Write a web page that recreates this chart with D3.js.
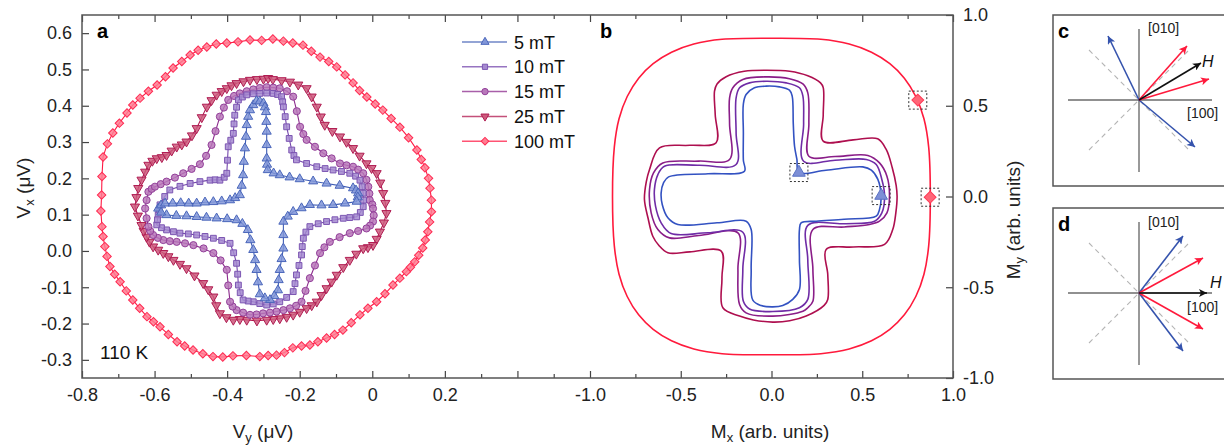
<!DOCTYPE html>
<html>
<head>
<meta charset="utf-8">
<script src="https://cdn.jsdelivr.net/npm/d3@7"></script>
<style>
  body { margin: 0; background: #fff; }
  svg { font-family: Arial, "Liberation Sans", sans-serif; }
</style>
</head>
<body>
<svg id="chart" width="1224" height="447"></svg>
<script>
// ---- panel a : measured loops, [Vy, Vx] in µV ----
var a5 = [[-0.590,0.117],[-0.582,0.126],[-0.571,0.131],[-0.550,0.131],[-0.528,0.132],[-0.506,0.131],[-0.484,0.131],
  [-0.461,0.134],[-0.438,0.135],[-0.415,0.137],[-0.392,0.140],[-0.378,0.146],[-0.365,0.154],[-0.360,0.180],[-0.356,0.209],
  [-0.354,0.246],[-0.351,0.283],[-0.348,0.315],[-0.346,0.347],[-0.342,0.370],[-0.337,0.388],[-0.328,0.402],[-0.319,0.413],
  [-0.310,0.412],[-0.300,0.407],[-0.296,0.396],[-0.293,0.383],[-0.292,0.356],[-0.291,0.329],[-0.291,0.292],[-0.291,0.255],
  [-0.290,0.238],[-0.288,0.223],[-0.272,0.214],[-0.255,0.209],[-0.228,0.203],[-0.200,0.198],[-0.163,0.192],[-0.126,0.186],
  [-0.090,0.180],[-0.053,0.173],[-0.045,0.167],[-0.039,0.159],[-0.040,0.148],[-0.043,0.136],[-0.075,0.131],[-0.108,0.127],
  [-0.140,0.126],[-0.172,0.127],[-0.195,0.118],[-0.218,0.108],[-0.233,0.095],[-0.245,0.081],[-0.245,0.044],[-0.245,0.007],
  [-0.250,-0.022],[-0.255,-0.052],[-0.258,-0.080],[-0.260,-0.108],[-0.270,-0.124],[-0.282,-0.135],[-0.296,-0.130],
  [-0.310,-0.119],[-0.315,-0.086],[-0.319,-0.052],[-0.323,-0.025],[-0.328,0.003],[-0.336,0.030],[-0.343,0.058],
  [-0.358,0.075],[-0.374,0.085],[-0.400,0.088],[-0.429,0.090],[-0.457,0.092],[-0.484,0.094],[-0.512,0.096],[-0.540,0.097],
  [-0.567,0.099],[-0.582,0.106]];
var a10 = [[-0.590,0.099],[-0.588,0.113],[-0.585,0.127],[-0.572,0.150],[-0.558,0.168],[-0.530,0.178],[-0.502,0.186],
  [-0.475,0.191],[-0.447,0.195],[-0.433,0.196],[-0.420,0.195],[-0.408,0.203],[-0.401,0.214],[-0.399,0.250],[-0.397,0.287],
  [-0.390,0.305],[-0.383,0.324],[-0.381,0.350],[-0.379,0.374],[-0.374,0.396],[-0.369,0.416],[-0.358,0.424],[-0.346,0.430],
  [-0.328,0.433],[-0.310,0.434],[-0.291,0.435],[-0.273,0.434],[-0.261,0.431],[-0.250,0.425],[-0.247,0.411],[-0.245,0.397],
  [-0.240,0.370],[-0.236,0.342],[-0.229,0.310],[-0.222,0.278],[-0.216,0.263],[-0.209,0.251],[-0.181,0.241],[-0.153,0.232],
  [-0.130,0.227],[-0.108,0.223],[-0.085,0.219],[-0.062,0.214],[-0.046,0.206],[-0.034,0.195],[-0.028,0.177],[-0.025,0.159],
  [-0.024,0.140],[-0.025,0.122],[-0.033,0.106],[-0.043,0.094],[-0.062,0.092],[-0.080,0.090],[-0.103,0.086],[-0.126,0.081],
  [-0.149,0.075],[-0.172,0.067],[-0.183,0.052],[-0.190,0.035],[-0.193,0.012],[-0.195,-0.011],[-0.202,-0.040],[-0.209,-0.066],
  [-0.213,-0.090],[-0.218,-0.112],[-0.236,-0.128],[-0.255,-0.140],[-0.273,-0.146],[-0.291,-0.149],[-0.310,-0.145],
  [-0.328,-0.140],[-0.342,-0.138],[-0.356,-0.135],[-0.364,-0.115],[-0.369,-0.094],[-0.371,-0.064],[-0.374,-0.034],
  [-0.382,-0.005],[-0.392,0.021],[-0.415,0.029],[-0.438,0.035],[-0.461,0.040],[-0.484,0.044],[-0.507,0.047],[-0.530,0.049],
  [-0.548,0.053],[-0.567,0.058],[-0.581,0.064],[-0.594,0.072],[-0.592,0.086]];
var a15 = [[-0.626,0.117],[-0.622,0.140],[-0.617,0.163],[-0.608,0.171],[-0.599,0.177],[-0.583,0.184],[-0.567,0.191],
  [-0.544,0.202],[-0.521,0.214],[-0.498,0.226],[-0.475,0.239],[-0.458,0.262],[-0.443,0.292],[-0.432,0.330],[-0.420,0.370],
  [-0.409,0.395],[-0.397,0.416],[-0.381,0.427],[-0.365,0.434],[-0.346,0.440],[-0.328,0.445],[-0.310,0.449],[-0.291,0.451],
  [-0.273,0.450],[-0.255,0.448],[-0.235,0.440],[-0.218,0.425],[-0.208,0.385],[-0.199,0.342],[-0.190,0.322],[-0.181,0.306],
  [-0.158,0.287],[-0.135,0.269],[-0.112,0.255],[-0.089,0.241],[-0.071,0.236],[-0.053,0.232],[-0.039,0.224],[-0.025,0.214],
  [-0.016,0.196],[-0.011,0.177],[-0.008,0.158],[-0.007,0.140],[0.000,0.128],[0.002,0.117],[0.004,0.098],[0.002,0.081],
  [-0.006,0.070],[-0.016,0.062],[-0.039,0.055],[-0.062,0.049],[-0.090,0.038],[-0.117,0.025],[-0.132,0.010],[-0.144,-0.006],
  [-0.158,-0.040],[-0.172,-0.075],[-0.184,-0.110],[-0.195,-0.140],[-0.210,-0.151],[-0.227,-0.158],[-0.245,-0.163],
  [-0.264,-0.167],[-0.282,-0.170],[-0.301,-0.172],[-0.319,-0.175],[-0.337,-0.176],[-0.356,-0.170],[-0.374,-0.163],
  [-0.385,-0.153],[-0.392,-0.140],[-0.397,-0.095],[-0.401,-0.052],[-0.418,-0.026],[-0.438,-0.006],[-0.465,0.007],
  [-0.493,0.016],[-0.516,0.021],[-0.539,0.025],[-0.558,0.027],[-0.576,0.030],[-0.591,0.036],[-0.604,0.044],[-0.612,0.055],
  [-0.617,0.067],[-0.622,0.090]];
var a25 = [[-0.654,0.122],[-0.650,0.148],[-0.645,0.173],[-0.636,0.196],[-0.626,0.218],[-0.617,0.237],[-0.606,0.248],
  [-0.594,0.255],[-0.580,0.258],[-0.567,0.264],[-0.553,0.276],[-0.539,0.287],[-0.525,0.293],[-0.512,0.301],[-0.497,0.318],
  [-0.484,0.338],[-0.470,0.368],[-0.456,0.397],[-0.443,0.415],[-0.429,0.430],[-0.415,0.440],[-0.401,0.448],[-0.388,0.456],
  [-0.374,0.462],[-0.355,0.467],[-0.337,0.471],[-0.318,0.473],[-0.300,0.474],[-0.287,0.476],[-0.274,0.473],[-0.250,0.470],
  [-0.227,0.466],[-0.204,0.458],[-0.181,0.448],[-0.167,0.425],[-0.153,0.397],[-0.142,0.370],[-0.131,0.347],[-0.110,0.330],
  [-0.089,0.315],[-0.071,0.300],[-0.053,0.283],[-0.035,0.262],[-0.016,0.241],[-0.002,0.228],[0.012,0.214],[0.022,0.188],
  [0.030,0.159],[0.036,0.132],[0.039,0.104],[0.032,0.078],[0.021,0.053],[0.012,0.033],[0.002,0.016],[-0.012,0.010],
  [-0.025,0.007],[-0.044,-0.008],[-0.062,-0.025],[-0.080,-0.045],[-0.098,-0.066],[-0.112,-0.085],[-0.126,-0.103],
  [-0.140,-0.122],[-0.153,-0.140],[-0.167,-0.150],[-0.181,-0.158],[-0.200,-0.168],[-0.218,-0.176],[-0.236,-0.182],
  [-0.255,-0.186],[-0.273,-0.188],[-0.291,-0.190],[-0.318,-0.192],[-0.346,-0.190],[-0.365,-0.188],[-0.383,-0.190],
  [-0.402,-0.183],[-0.420,-0.172],[-0.430,-0.150],[-0.438,-0.126],[-0.452,-0.106],[-0.466,-0.089],[-0.490,-0.068],
  [-0.512,-0.048],[-0.530,-0.036],[-0.548,-0.025],[-0.562,-0.015],[-0.576,-0.006],[-0.590,0.003],[-0.604,0.012],
  [-0.614,0.025],[-0.622,0.039],[-0.630,0.055],[-0.636,0.071],[-0.646,0.097]];
var a100 = [[-0.746,0.154],[-0.745,0.205],[-0.742,0.259],[-0.730,0.295],[-0.715,0.325],[-0.697,0.352],[-0.676,0.380],
  [-0.660,0.402],[-0.640,0.421],[-0.617,0.440],[-0.593,0.457],[-0.570,0.480],[-0.549,0.504],[-0.525,0.522],[-0.502,0.540],
  [-0.480,0.553],[-0.456,0.562],[-0.430,0.570],[-0.401,0.573],[-0.370,0.576],[-0.337,0.581],[-0.305,0.580],[-0.274,0.584],
  [-0.245,0.578],[-0.219,0.573],[-0.191,0.567],[-0.168,0.550],[-0.144,0.534],[-0.120,0.522],[-0.098,0.507],[-0.075,0.485],
  [-0.053,0.463],[-0.035,0.442],[-0.015,0.424],[0.008,0.405],[0.029,0.388],[0.052,0.365],[0.076,0.341],[0.100,0.312],
  [0.123,0.278],[0.135,0.252],[0.145,0.229],[0.155,0.200],[0.159,0.173],[0.163,0.140],[0.163,0.108],[0.158,0.080],
  [0.153,0.053],[0.146,0.030],[0.139,0.008],[0.128,-0.012],[0.117,-0.030],[0.105,-0.045],[0.094,-0.057],[0.076,-0.075],
  [0.057,-0.094],[0.035,-0.118],[0.012,-0.140],[-0.012,-0.158],[-0.034,-0.176],[-0.058,-0.198],[-0.081,-0.218],
  [-0.104,-0.230],[-0.126,-0.240],[-0.150,-0.250],[-0.172,-0.259],[-0.195,-0.262],[-0.219,-0.267],[-0.242,-0.280],
  [-0.264,-0.287],[-0.287,-0.288],[-0.310,-0.291],[-0.347,-0.288],[-0.384,-0.289],[-0.412,-0.292],[-0.439,-0.291],
  [-0.467,-0.283],[-0.494,-0.273],[-0.517,-0.262],[-0.538,-0.250],[-0.562,-0.230],[-0.585,-0.209],[-0.603,-0.195],
  [-0.621,-0.181],[-0.641,-0.158],[-0.660,-0.135],[-0.678,-0.110],[-0.695,-0.085],[-0.710,-0.064],[-0.723,-0.043],
  [-0.731,-0.015],[-0.737,0.012],[-0.742,0.040],[-0.745,0.067],[-0.748,0.110]];

// ---- panel b : simulated loops, [Mx, My] ----
var b5 = [[0.151,0.132],[0.30,0.145],[0.503,0.163],[0.55,0.145],[0.586,0.094],[0.604,0.002],[0.595,-0.071],[0.577,-0.108],
  [0.40,-0.125],[0.246,-0.136],[0.163,-0.145],[0.154,-0.182],[0.154,-0.35],[0.154,-0.512],[0.117,-0.567],[0.062,-0.601],
  [0.007,-0.608],[-0.057,-0.601],[-0.103,-0.571],[-0.112,-0.40],[-0.112,-0.182],[-0.140,-0.136],[-0.30,-0.145],
  [-0.516,-0.154],[-0.571,-0.117],[-0.602,-0.044],[-0.608,0.020],[-0.595,0.075],[-0.567,0.108],[-0.35,0.125],
  [-0.149,0.139],[-0.155,0.20],[-0.155,0.35],[-0.155,0.51],[-0.140,0.562],[-0.094,0.599],[-0.029,0.608],[0.044,0.604],
  [0.099,0.586],[0.114,0.553],[0.120,0.40],[0.127,0.277],[0.140,0.204]];
var b10 = [[-0.195,0.176],[-0.195,0.35],[-0.195,0.544],[-0.176,0.599],[-0.121,0.626],[-0.029,0.635],[0.081,0.626],
  [0.154,0.599],[0.173,0.553],[0.177,0.40],[0.177,0.194],[0.35,0.200],[0.522,0.204],[0.577,0.176],[0.608,0.094],
  [0.623,0.002],[0.608,-0.090],[0.568,-0.136],[0.40,-0.150],[0.200,-0.159],[0.200,-0.35],[0.200,-0.567],[0.154,-0.613],
  [0.007,-0.634],[-0.121,-0.620],[-0.155,-0.577],[-0.158,-0.40],[-0.158,-0.197],[-0.35,-0.200],[-0.553,-0.204],
  [-0.608,-0.145],[-0.639,-0.053],[-0.645,0.039],[-0.626,0.121],[-0.590,0.167],[-0.40,0.172]];
var b15 = [[-0.231,0.204],[-0.231,0.40],[-0.231,0.544],[-0.213,0.599],[-0.158,0.645],[-0.029,0.659],[0.099,0.649],
  [0.173,0.620],[0.200,0.571],[0.206,0.40],[0.206,0.222],[0.35,0.220],[0.531,0.226],[0.595,0.185],[0.636,0.112],
  [0.650,0.002],[0.636,-0.090],[0.595,-0.136],[0.540,-0.154],[0.40,-0.168],[0.228,-0.182],[0.228,-0.40],[0.228,-0.577],
  [0.200,-0.613],[0.173,-0.632],[0.007,-0.659],[-0.140,-0.641],[-0.176,-0.595],[-0.185,-0.40],[-0.185,-0.200],
  [-0.40,-0.215],[-0.562,-0.228],[-0.626,-0.182],[-0.663,-0.090],[-0.672,0.039],[-0.650,0.130],[-0.599,0.185],[-0.40,0.195]];
var b25 = [[-0.314,0.580],[-0.30,0.62],[-0.25,0.66],[-0.15,0.69],[-0.03,0.696],[0.10,0.69],[0.20,0.665],[0.27,0.626],
  [0.285,0.60],[0.285,0.45],[0.285,0.305],[0.45,0.312],[0.585,0.318],[0.632,0.259],[0.665,0.16],[0.687,0.06],[0.692,0.00],
  [0.685,-0.09],[0.668,-0.182],[0.623,-0.264],[0.45,-0.278],[0.301,-0.292],[0.310,-0.43],[0.310,-0.567],[0.29,-0.60],
  [0.191,-0.659],[0.10,-0.685],[0.007,-0.692],[-0.10,-0.68],[-0.176,-0.659],[-0.268,-0.613],[-0.273,-0.45],[-0.277,-0.301],
  [-0.45,-0.305],[-0.571,-0.31],[-0.62,-0.27],[-0.654,-0.219],[-0.68,-0.12],[-0.70,-0.017],[-0.69,0.08],[-0.672,0.149],
  [-0.617,0.268],[-0.45,0.282],[-0.305,0.296],[-0.31,0.45]];
var b100 = [[0.875,0],[0.866,0.272],[0.840,0.428],[0.795,0.551],[0.732,0.652],[0.652,0.732],[0.551,0.795],[0.428,0.840],
  [0.272,0.866],[0,0.872],[-0.272,0.866],[-0.428,0.840],[-0.551,0.795],[-0.652,0.732],[-0.732,0.652],[-0.795,0.551],
  [-0.840,0.428],[-0.866,0.272],[-0.876,0],[-0.866,-0.272],[-0.840,-0.428],[-0.795,-0.551],[-0.732,-0.652],[-0.652,-0.732],
  [-0.551,-0.795],[-0.428,-0.840],[-0.272,-0.866],[0,-0.872],[0.272,-0.866],[0.428,-0.840],[0.551,-0.795],[0.652,-0.732],
  [0.732,-0.652],[0.795,-0.551],[0.840,-0.428],[0.866,-0.272]];
var bMark5 = [[0.151,0.132],[0.604,0.005]];
var bMark100 = [[0.806,0.531],[0.874,-0.004]];

// ---- ticks ----
var aXMajor = [-0.8,-0.6,-0.4,-0.2,0,0.2,0.4];
var aXLabels = ["-0.8","-0.6","-0.4","-0.2","0","0.2",""];
var aXMinor = [-0.7,-0.5,-0.3,-0.1,0.1,0.3,0.5];
var aYTicks = [0.6,0.5,0.4,0.3,0.2,0.1,0,-0.1,-0.2,-0.3];
var aYLabels = ["0.6","0.5","0.4","0.3","0.2","0.1","0.0","-0.1","-0.2","-0.3"];
var bXMajor = [-1,-0.5,0,0.5,1];
var bXLabels = ["-1.0","-0.5","0.0","0.5","1.0"];
var bXMinor = [-0.75,-0.25,0.25,0.75];
var bYTicks = [1,0.5,0,-0.5,-1];
var bYLabels = ["1.0","0.5","0.0","-0.5","-1.0"];

var legendLabels = ["5 mT","10 mT","15 mT","25 mT","100 mT"];

// ---- panels c, d : schematic vectors (unit = panel half width) ----
var cArrows = [[-0.31,0.64,"blue"],[0.56,-0.47,"blue"],[0.48,0.54,"red"],[0.70,0.21,"red"],[0.62,0.37,"black"]];
var dArrows = [[0.44,0.57,"blue"],[0.44,-0.58,"blue"],[0.64,0.35,"red"],[0.64,-0.36,"red"],[0.68,0,"black"]];

var svg = d3.select("#chart");

var xa = d3.scaleLinear().domain([-0.8, 0.6]).range([82, 590]);
var ya = d3.scaleLinear().domain([-0.35, 0.65]).range([378, 15]);
var xb = d3.scaleLinear().domain([-1, 1]).range([590, 953]);
var yb = d3.scaleLinear().domain([-1, 1]).range([378, 15]);

// colours
var styles = [
  {pts: a5,   sym: d3.symbolTriangle, rot: 0,   size: 36, line: "#3f5db4", fill: "#8196d8", stroke: "#4a66bb"},
  {pts: a10,  sym: d3.symbolSquare,   rot: 0,   size: 34, line: "#7446ac", fill: "#a58ad0", stroke: "#7c56b2"},
  {pts: a15,  sym: d3.symbolCircle,   rot: 0,   size: 40, line: "#8b2a8c", fill: "#b878ba", stroke: "#93409a"},
  {pts: a25,  sym: d3.symbolTriangle, rot: 180, size: 36, line: "#b0164e", fill: "#cc5a7c", stroke: "#b01c52"},
  {pts: a100, sym: d3.symbolSquare,   rot: 45,  size: 36, line: "#ff1a44", fill: "#ff7d92", stroke: "#ff2a52"}
];

// ---- axes ----
function tickAxis(axis, vals, size, labels, transform) {
  var g = svg.append("g").attr("transform", transform)
    .call(axis.tickValues(vals).tickSize(size).tickPadding(10)
      .tickFormat(function (d, i) { return labels ? labels[i] : ""; }));
  g.select(".domain").remove();
  g.selectAll("line").attr("stroke", "#444").attr("stroke-width", 1.2);
  g.selectAll("text").attr("font-size", 18).attr("fill", "#222").attr("font-family", "Arial, 'Liberation Sans', sans-serif");
  return g;
}

tickAxis(d3.axisBottom(xa), aXMajor, -7, aXLabels, "translate(0,378)");
tickAxis(d3.axisBottom(xa), aXMinor, -4, null, "translate(0,378)");
tickAxis(d3.axisTop(xa), aXMajor, -7, null, "translate(0,15)");
tickAxis(d3.axisTop(xa), aXMinor, -4, null, "translate(0,15)");
tickAxis(d3.axisBottom(xb), bXMajor, -7, bXLabels, "translate(0,378)");
tickAxis(d3.axisBottom(xb), bXMinor, -4, null, "translate(0,378)");
tickAxis(d3.axisTop(xb), bXMajor, -7, null, "translate(0,15)");
tickAxis(d3.axisTop(xb), bXMinor, -4, null, "translate(0,15)");
tickAxis(d3.axisLeft(ya), aYTicks, -7, aYLabels, "translate(82,0)");
tickAxis(d3.axisRight(yb), bYTicks, -7, bYLabels, "translate(953,0)");

svg.append("rect").attr("x", 82).attr("y", 15).attr("width", 871).attr("height", 363)
  .attr("fill", "none").attr("stroke", "#555").attr("stroke-width", 1.5);

// ---- panel a curves ----
var lineA = d3.line().x(function (d) { return xa(d[0]); }).y(function (d) { return ya(d[1]); })
  .curve(d3.curveLinearClosed);

styles.slice().reverse().forEach(function (s) {
  var g = svg.append("g");
  g.append("path").attr("d", lineA(s.pts)).attr("fill", "none")
    .attr("stroke", s.line).attr("stroke-width", 1.1);
  g.selectAll("path.m").data(s.pts).enter().append("path").attr("class", "m")
    .attr("d", d3.symbol().type(s.sym).size(s.size))
    .attr("transform", function (d) { return "translate(" + xa(d[0]) + "," + ya(d[1]) + ") rotate(" + s.rot + ")"; })
    .attr("fill", s.fill).attr("fill-opacity", 0.85).attr("stroke", s.stroke).attr("stroke-width", 1);
});

// legend
var lg = svg.append("g");
legendLabels.forEach(function (t, i) {
  var s = styles[i], y = 42 + i * 24.8;
  lg.append("line").attr("x1", 462).attr("x2", 507).attr("y1", y).attr("y2", y)
    .attr("stroke", s.line).attr("stroke-opacity", 0.75).attr("stroke-width", 1.5);
  lg.append("path").attr("d", d3.symbol().type(s.sym).size(s.size * 0.8))
    .attr("transform", "translate(485," + y + ") rotate(" + s.rot + ")")
    .attr("fill", s.fill).attr("stroke", s.stroke).attr("stroke-width", 1);
  lg.append("text").attr("x", 514).attr("y", y + 6.5).attr("font-size", 18).attr("fill", "#111").text(t);
});

svg.append("text").attr("x", 97).attr("y", 38).attr("font-size", 20).attr("font-weight", "bold").text("a");
svg.append("text").attr("x", 600).attr("y", 38).attr("font-size", 20).attr("font-weight", "bold").text("b");
svg.append("text").attr("x", 100).attr("y", 359).attr("font-size", 19).attr("fill", "#111").text("110 K");

// ---- panel b curves ----
var lineB = d3.line().x(function (d) { return xb(d[0]); }).y(function (d) { return yb(d[1]); })
  .curve(d3.curveCatmullRomClosed.alpha(0.5));
var bSeries = [[b100, "#ff1a3c"], [b25, "#ae0f4f"], [b15, "#8a1d88"], [b10, "#6f2ca6"], [b5, "#3352c2"]];
bSeries.forEach(function (s) {
  svg.append("path").attr("d", lineB(s[0])).attr("fill", "none").attr("stroke", s[1]).attr("stroke-width", 1.6);
});

function markBoxes(pts, sym, rot, fill, stroke) {
  pts.forEach(function (d) {
    var px = xb(d[0]), py = yb(d[1]);
    svg.append("rect").attr("x", px - 9).attr("y", py - 9).attr("width", 18).attr("height", 18)
      .attr("fill", "none").attr("stroke", "#333").attr("stroke-width", 1).attr("stroke-dasharray", "2,2");
    svg.append("path").attr("d", d3.symbol().type(sym).size(70))
      .attr("transform", "translate(" + px + "," + py + ") rotate(" + rot + ")")
      .attr("fill", fill).attr("stroke", stroke).attr("stroke-width", 1);
  });
}
markBoxes(bMark5, d3.symbolTriangle, 0, "#7d8fd6", "#5a72c4");
markBoxes(bMark100, d3.symbolSquare, 45, "#ff6678", "#ff3a55");

// axis titles
function axisTitle(x, y, rot, main, sub, rest) {
  var t = svg.append("text").attr("transform", "translate(" + x + "," + y + ") rotate(" + rot + ")")
    .attr("text-anchor", "middle").attr("font-size", 19).attr("fill", "#222");
  t.append("tspan").text(main);
  t.append("tspan").attr("font-size", 13).attr("dy", 4).text(sub);
  t.append("tspan").attr("dy", -4).text(rest);
}
axisTitle(30, 188, -90, "V", "x", " (\u03bcV)");
axisTitle(263, 438, 0, "V", "y", " (\u03bcV)");
axisTitle(770, 438, 0, "M", "x", " (arb. units)");
axisTitle(1020, 220, -90, "M", "y", " (arb. units)");

// ---- panels c and d ----
var colors = {blue: "#3553ad", red: "#ff1a3c", black: "#111"};
var defs = svg.append("defs");
Object.keys(colors).forEach(function (k) {
  defs.append("marker").attr("id", "ah-" + k).attr("viewBox", "0 0 10 10").attr("refX", 10).attr("refY", 5)
    .attr("markerWidth", 13).attr("markerHeight", 8).attr("markerUnits", "userSpaceOnUse").attr("orient", "auto")
    .append("path").attr("d", "M0,0L10,5L0,10L2.5,5z").attr("fill", colors[k]);
});

function schematic(cy, arrows, label, hx, hy, lab100y, lab010y) {
  var cx = 1139;
  var u = d3.scaleLinear().domain([-1, 1]).range([-100, 100]);
  svg.append("rect").attr("x", 1053).attr("y", cy - 85).attr("width", 200).attr("height", 171)
    .attr("fill", "none").attr("stroke", "#555").attr("stroke-width", 1.5);
  var g = svg.append("g").attr("transform", "translate(" + cx + "," + cy + ")");
  [[-0.5, -0.5, 0.5, 0.5], [-0.5, 0.5, 0.5, -0.5]].forEach(function (l) {
    g.append("line").attr("x1", u(l[0])).attr("y1", -u(l[1])).attr("x2", u(l[2])).attr("y2", -u(l[3]))
      .attr("stroke", "#b5b5b5").attr("stroke-width", 1.1).attr("stroke-dasharray", "5,4");
  });
  g.append("line").attr("x1", u(-0.71)).attr("x2", u(0.73)).attr("y1", 0).attr("y2", 0)
    .attr("stroke", "#222").attr("stroke-width", 1.2);
  g.append("line").attr("x1", 0).attr("x2", 0).attr("y1", -u(0.71)).attr("y2", -u(-0.72))
    .attr("stroke", "#555").attr("stroke-width", 1.2);
  arrows.forEach(function (a) {
    g.append("line").attr("x1", 0).attr("y1", 0).attr("x2", u(a[0])).attr("y2", -u(a[1]))
      .attr("stroke", colors[a[2]]).attr("stroke-width", 1.6).attr("marker-end", "url(#ah-" + a[2] + ")");
  });
  svg.append("text").attr("x", 1058).attr("y", cy - 62).attr("font-size", 20).attr("font-weight", "bold").text(label);
  svg.append("text").attr("x", 1148).attr("y", lab010y).attr("font-size", 14).attr("fill", "#222").text("[010]");
  svg.append("text").attr("x", 1187).attr("y", lab100y).attr("font-size", 14).attr("fill", "#222").text("[100]");
  svg.append("text").attr("x", hx).attr("y", hy).attr("font-size", 16).attr("font-style", "italic").attr("fill", "#111").text("H");
}
schematic(100, cArrows, "c", 1202, 67, 118, 33);
schematic(293, dArrows, "d", 1210, 288, 312, 227);
</script>
</body>
</html>
